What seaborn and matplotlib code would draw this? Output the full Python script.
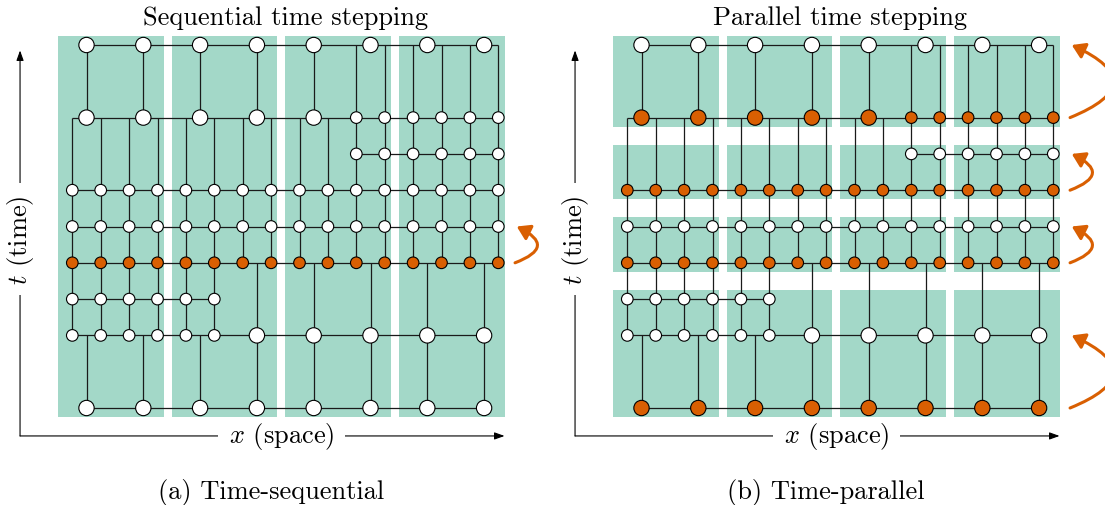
import numpy as np
import pandas as pd
import matplotlib
matplotlib.use("Agg")
import matplotlib.pyplot as plt
import seaborn as sns
from matplotlib.patches import FancyArrowPatch, Rectangle

sns.set_theme(style="white")
plt.rcParams["font.family"] = ["cmr10"]
plt.rcParams["mathtext.fontset"] = "cm"
plt.rcParams["axes.unicode_minus"] = False
plt.rcParams["text.color"] = "black"

# ---- mesh description (space in fine-cell units, time in fine steps) ----
subdomain_starts = [0, 4, 8, 12]
subdomain_width = 3.72

block_level = [0, 2, 2, 3, 4, 5, 6, 7, 8, 8, 10]
block_kind = ["coarse", "fine", "coarse", "fine", "fine", "fine",
              "fine", "fine", "coarse", "fine", "coarse"]
block_first = [1, 0.5, 7, 0.5, 0.5, 0.5, 0.5, 10.5, 1, 10.5, 1]
block_last = [15, 5.5, 15, 5.5, 15.5, 15.5, 15.5, 15.5, 9, 15.5, 15]
kind_spacing = {"coarse": 2.0, "fine": 1.0}

# highlighted (currently computed) levels, time slabs and sweep arrows
seq_active = [4]
par_active = [0, 4, 6, 8]
seq_slabs = [(0, 10)]
par_slabs = [(0, 3), (4, 5), (6, 7), (8, 10)]
seq_sweeps = [(4, 5)]
par_sweeps = [(0, 2), (4, 5), (6, 7), (8, 10)]

titles = ["Sequential time stepping", "Parallel time stepping"]
captions = ["(a) Time-sequential", "(b) Time-parallel"]

GREEN = "#1B9E77"
ORANGE = "#D95F02"
LINE = "#1a1a1a"


def build_nodes(active):
    rows = []
    for lev, kind, a, b in zip(block_level, block_kind, block_first, block_last):
        h = kind_spacing[kind]
        for x in np.arange(a, b + 1e-9, h):
            rows.append({"x": x, "t": lev, "kind": kind,
                         "state": "active" if lev in active else "plain"})
    return pd.DataFrame(rows)


def covers(level, x):
    for lev, kind, a, b in zip(block_level, block_kind, block_first, block_last):
        h = kind_spacing[kind]
        if lev == level and a - h / 2 < x < b + h / 2:
            return True
    return False


def build_edges(nodes):
    levels = sorted(set(block_level))
    verticals = []
    for _, r in nodes.iterrows():
        for lev in levels:
            if lev > r.t and covers(lev, r.x):
                verticals.append((r.x, r.t, lev))
                break
    horizontals = []
    for lev in levels:
        xs = list(nodes.loc[nodes.t == lev, "x"])
        xs += [v[0] for v in verticals if v[2] == lev]
        horizontals.append((min(xs), max(xs), lev))
    return verticals, horizontals


fig = plt.figure(figsize=(11.05, 5.06), dpi=100)
W, H = 1105.0, 506.0
px_x, px_t, x0_px, t0_px = 28.4, 36.3, 58.1, 409.0
ylim = ((t0_px - H) / px_t, t0_px / px_t)

panels = [
    (0.0, 552.0, 0.0, seq_active, seq_slabs, seq_sweeps),
    (553.0, 1105.0, 555.0, par_active, par_slabs, par_sweeps),
]

for i, (pl, pr, off, active, slabs, sweeps) in enumerate(panels):
    ax = fig.add_axes([pl / W, 0, (pr - pl) / W, 1])
    ax.set_xlim((pl - off - x0_px) / px_x, (pr - off - x0_px) / px_x)
    ax.set_ylim(*ylim)
    ax.axis("off")

    # subdomain / time-slab blocks
    for xs in subdomain_starts:
        for (ta, tb) in slabs:
            ax.add_patch(Rectangle((xs, ta - 0.25), subdomain_width,
                                   tb - ta + 0.5, facecolor=GREEN, alpha=0.4,
                                   lw=0, zorder=0))

    nodes = build_nodes(active)
    verticals, horizontals = build_edges(nodes)
    for x, ta, tb in verticals:
        ax.plot([x, x], [ta, tb], color=LINE, lw=0.9, zorder=2,
                solid_capstyle="butt")
    for xa, xb, t in horizontals:
        ax.plot([xa, xb], [t, t], color=LINE, lw=0.9, zorder=2,
                solid_capstyle="butt")

    sns.scatterplot(data=nodes, x="x", y="t", hue="state", size="kind",
                    palette={"plain": "white", "active": ORANGE},
                    sizes={"coarse": 122, "fine": 70}, edgecolor="black",
                    linewidth=0.8, legend=False, ax=ax, zorder=3)
    ax.set_xlabel("")
    ax.set_ylabel("")

    # axes arrows (labels sit on top of the arrows, beneath the mesh)
    ax_x, ax_t = -1.34, -0.77
    arrow_kw = dict(arrowstyle="-|>,head_length=0.5,head_width=0.18",
                    lw=0.8, color="black", shrinkA=0, shrinkB=0,
                    mutation_scale=12)
    ax.annotate("", xy=(15.72, ax_t), xytext=(ax_x, ax_t), arrowprops=arrow_kw,
                zorder=-2)
    ax.annotate("", xy=(ax_x, 9.85), xytext=(ax_x, ax_t), arrowprops=arrow_kw,
                zorder=-2)
    ax.text(7.87, ax_t, r"$x$ (space)", ha="center", va="center", fontsize=19,
            bbox=dict(fc="white", ec="none", pad=8), zorder=-1)
    ax.text(ax_x, 4.66, r"$t$ (time)", ha="center", va="center", fontsize=19,
            rotation=90, bbox=dict(fc="white", ec="none", pad=8), zorder=-1)

    ax.text(8.0, 10.77, titles[i], ha="center", va="center", fontsize=19)
    ax.text(7.5, -2.29, captions[i], ha="center", va="center", fontsize=19)

    # sweep arrows
    for ta, tb in sweeps:
        arr = FancyArrowPatch((16.09, ta), (16.15, tb),
                              connectionstyle="arc3,rad=1.15",
                              arrowstyle="-|>,head_length=0.55,head_width=0.35",
                              mutation_scale=14, lw=2.2, color=ORANGE,
                              shrinkA=0, shrinkB=0, clip_on=False, zorder=3)
        ax.add_patch(arr)

fig.savefig("out.png", dpi=100)
